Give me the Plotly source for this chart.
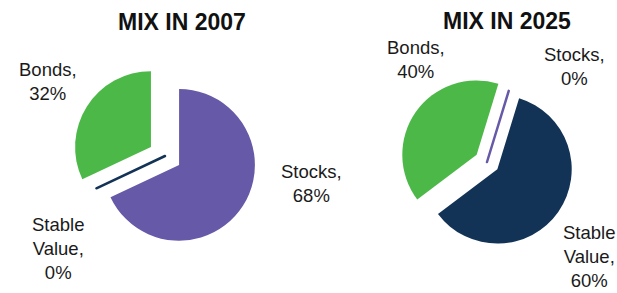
import plotly.graph_objects as go

# ---- data ----
labels = ["Stocks", "Stable Value", "Bonds"]
values_2007 = [68, 0, 32]
values_2025 = [0, 60, 40]
titles = ["MIX IN 2007", "MIX IN 2025"]

# ---- styles ----
colors = {"Stocks": "#6559A8", "Stable Value": "#133356", "Bonds": "#4CB848"}
W, H = 617, 293
slice_colors = [colors[l] for l in labels]


def px(x, y):
    return x / W, 1 - y / H


def box(cx, cy, size):
    h = size / 2
    return dict(x=[(cx - h) / W, (cx + h) / W], y=[1 - (cy + h) / H, 1 - (cy - h) / H])


def line_widths(vals):
    return [2.5 if v == 0 else 0 for v in vals]


fig = go.Figure()
# left pie
fig.add_trace(go.Pie(
    labels=labels, values=values_2007, sort=False, direction="clockwise", rotation=0,
    pull=[0 if v == 0 else 0.22 for v in values_2007],
    marker=dict(colors=slice_colors, line=dict(color=slice_colors, width=line_widths(values_2007))),
    textinfo="none", hoverinfo="label+percent",
    domain=box(165, 156, 185),
    showlegend=False,
))
# right pie
fig.add_trace(go.Pie(
    labels=labels, values=values_2025, sort=False, direction="clockwise", rotation=17,
    pull=[0 if v == 0 else 0.17 for v in values_2025],
    marker=dict(colors=slice_colors, line=dict(color=slice_colors, width=line_widths(values_2025))),
    textinfo="none", hoverinfo="label+percent",
    domain=box(487, 162, 174),
    showlegend=False,
))

annotations = []
# titles
for t, (cx, cy) in zip(titles, [(182, 22), (507, 21)]):
    x, y = px(cx, cy)
    annotations.append(dict(text=f"<b>{t}</b>", x=x, y=y, xref="paper", yref="paper",
                            xanchor="center", yanchor="middle", showarrow=False,
                            font=dict(family="Liberation Sans, Arial", size=23, color="#111111")))

label_pos_2007 = {"Stocks": (312, 183), "Stable Value": (58, 248), "Bonds": (48, 82)}
label_pos_2025 = {"Stocks": (574, 67), "Stable Value": (589, 256), "Bonds": (416, 60)}


def label_text(name, v):
    return name.replace(" ", "<br>") + ",<br>" + f"{v}%"


for vals, pos in [(values_2007, label_pos_2007), (values_2025, label_pos_2025)]:
    for name, v in zip(labels, vals):
        x, y = px(*pos[name])
        annotations.append(dict(text=label_text(name, v), x=x, y=y, xref="paper", yref="paper",
                                xanchor="center", yanchor="middle", showarrow=False, align="center",
                                borderpad=0,
                                font=dict(family="Liberation Sans, Arial", size=18.5, color="#1a1a1a")))

fig.update_layout(
    width=W, height=H, margin=dict(l=0, r=0, t=0, b=0),
    paper_bgcolor="white", plot_bgcolor="white",
    annotations=annotations,
)

fig.write_html("out.html", config={"displayModeBar": False},
               post_script="document.body.style.margin='0';document.body.style.overflow='hidden';")
